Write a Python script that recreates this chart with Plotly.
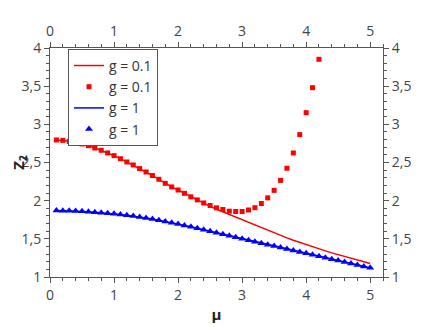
import plotly.graph_objects as go

mu_red_pts = [round(0.1 * i, 1) for i in range(1, 43)]
z_red_pts = [2.795, 2.790, 2.777, 2.764, 2.743, 2.720, 2.690, 2.660, 2.625, 2.590,
             2.550, 2.507, 2.468, 2.420, 2.376, 2.330, 2.280, 2.227, 2.180, 2.140,
             2.096, 2.050, 2.010, 1.970, 1.937, 1.906, 1.884, 1.862, 1.858, 1.858,
             1.878, 1.908, 1.963, 2.037, 2.135, 2.266, 2.425, 2.625, 2.865, 3.153,
             3.480, 3.852]

mu_line = [round(0.1 * i, 1) for i in range(1, 51)]
z_red_line = [2.795, 2.790, 2.777, 2.764, 2.743, 2.720, 2.690, 2.660, 2.625, 2.590,
              2.550, 2.507, 2.468, 2.420, 2.376, 2.330, 2.280, 2.227, 2.180, 2.140,
              2.096, 2.050, 2.008, 1.965, 1.925, 1.888, 1.853, 1.820, 1.787, 1.755,
              1.718, 1.682, 1.646, 1.612, 1.578, 1.545, 1.513, 1.482, 1.452, 1.423,
              1.395, 1.368, 1.342, 1.316, 1.292, 1.268, 1.245, 1.222, 1.200, 1.178]

z_blue = [1.870, 1.869, 1.867, 1.864, 1.860, 1.855, 1.849, 1.843, 1.836, 1.828,
          1.819, 1.809, 1.798, 1.786, 1.773, 1.759, 1.744, 1.728, 1.711, 1.694,
          1.676, 1.657, 1.638, 1.619, 1.599, 1.580, 1.560, 1.540, 1.520, 1.500,
          1.481, 1.462, 1.443, 1.424, 1.405, 1.386, 1.367, 1.348, 1.329, 1.310,
          1.291, 1.272, 1.253, 1.234, 1.215, 1.196, 1.177, 1.158, 1.139, 1.120]

x_ticks = [0, 1, 2, 3, 4, 5]
y_ticks = [1, 1.5, 2, 2.5, 3, 3.5, 4]

fig = go.Figure()
fig.add_trace(go.Scatter(x=mu_line, y=z_red_line, mode="lines", name="g = 0.1",
                         line=dict(color="#ff0000", width=1.5)))
fig.add_trace(go.Scatter(x=mu_red_pts, y=z_red_pts, mode="markers", name="g = 0.1",
                         marker=dict(symbol="square", size=5, color="#ff0000")))
fig.add_trace(go.Scatter(x=mu_line, y=z_blue, mode="lines", name="g = 1",
                         line=dict(color="#0000ff", width=1.5)))
fig.add_trace(go.Scatter(x=mu_line, y=z_blue, mode="markers", name="g = 1",
                         marker=dict(symbol="triangle-up", size=7, color="#0000ff")))
# invisible trace to activate the mirrored top/right axes
fig.add_trace(go.Scatter(x=mu_line, y=z_blue, mode="lines", xaxis="x2", yaxis="y2",
                         opacity=0, showlegend=False, hoverinfo="skip"))

axcol = "#555555"
common = dict(showline=True, linecolor=axcol, linewidth=1, ticks="outside",
              ticklen=5, tickcolor=axcol, showgrid=False, zeroline=False,
              automargin=False,
              tickfont=dict(size=14, color="#444444"))

fig.update_layout(
    width=428, height=319,
    margin=dict(l=42, r=53, t=40, b=50),
    paper_bgcolor="white", plot_bgcolor="white",
    font=dict(family="Open Sans", color="#444444"),
    separators=",.",
    showlegend=True,
    legend=dict(x=0.054, y=0.996, xanchor="left", yanchor="top",
                bgcolor="white", bordercolor="#555555", borderwidth=1,
                font=dict(size=14, color="#333333"), tracegroupgap=0,
                itemwidth=30),
    xaxis=dict(range=[0, 5.2], tickvals=x_ticks,
               minor=dict(dtick=0.2, ticklen=3, ticks="outside", tickcolor=axcol),
               title=dict(text="<b>μ</b>", font=dict(size=15, color="#222222"), standoff=6),
               **common),
    yaxis=dict(range=[1, 4], tickvals=y_ticks,
               minor=dict(dtick=0.1, ticklen=3, ticks="outside", tickcolor=axcol),
               title=dict(text="<b>Z<sub>2</sub></b>", font=dict(size=15, color="#222222"), standoff=4),
               **common),
    xaxis2=dict(range=[0, 5.2], tickvals=x_ticks, overlaying="x", side="top",
                anchor="y2",
                minor=dict(dtick=0.2, ticklen=3, ticks="outside", tickcolor=axcol),
                **common),
    yaxis2=dict(range=[1, 4], tickvals=y_ticks, overlaying="y", side="right",
                anchor="x2",
                minor=dict(dtick=0.1, ticklen=3, ticks="outside", tickcolor=axcol),
                **common),
)

fig.write_html("out.html")
